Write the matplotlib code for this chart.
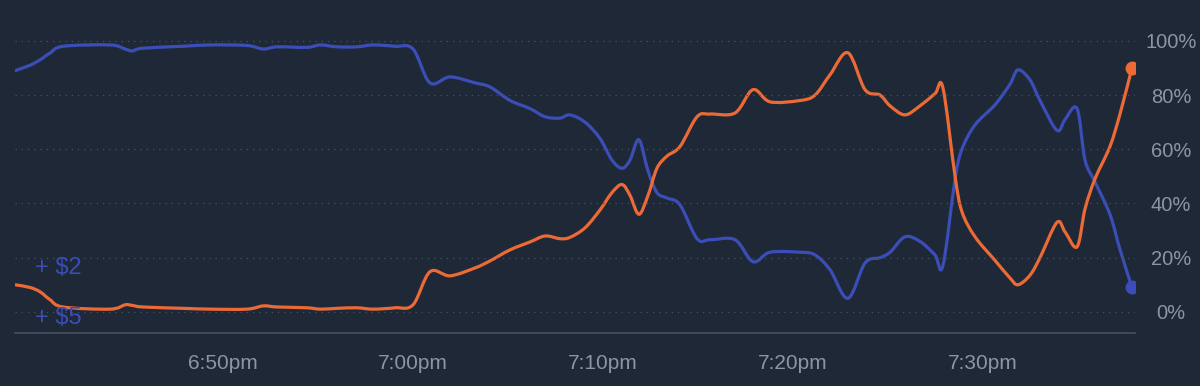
import matplotlib
matplotlib.use("Agg")
import matplotlib.pyplot as plt
from matplotlib.path import Path
from matplotlib.patches import PathPatch
import numpy as np

# minutes after 6:40pm
minutes = [-0.95, -0.16, 0.37, 0.89, 1.58, 4.05, 4.84, 5.21, 5.79, 7.89,
           9.32, 11.26, 12.11, 12.84, 14.42, 15.11, 16.00, 17.05, 17.89, 19.05,
           20.00, 20.89, 21.95, 23.26, 24.05, 25.11, 26.16, 26.95, 27.74, 28.26,
           29.05, 29.84, 30.47, 31.00, 31.42, 31.89, 32.37, 32.84, 33.37, 34.05,
           34.95, 35.63, 36.95, 37.89, 38.79, 40.37, 41.16, 41.95, 42.89, 43.79,
           44.58, 45.11, 45.89, 46.68, 47.47, 47.89, 48.53, 48.89, 49.58, 50.63,
           51.42, 51.84, 52.47, 53.00, 53.89, 54.32, 54.95, 55.37, 55.89, 56.68,
           57.21, 57.84]

blue_pct = [89, 91, 93, 95.5, 98, 98.5, 97, 96.3, 97.3, 98,
            98.5, 98.3, 97, 97.8, 97.6, 98.5, 97.8, 97.8, 98.5, 98,
            97, 84.5, 86.7, 84.5, 83, 78, 75, 72, 71.5, 72.7,
            70, 64, 56, 53, 56, 63.5, 52, 44, 42, 39.5,
            27, 26.6, 26.6, 18.5, 22, 22, 21, 15.5, 5, 18,
            20, 22, 27.7, 26, 21, 17, 49, 60, 69, 76.4,
            84, 89.3, 85.6, 78, 67, 71, 75, 56, 48, 36,
            23, 9]

orange_pct = [10, 9, 7.4, 4.5, 1.8, 1, 2.6, 2.4, 1.8, 1.3,
              1, 1, 2.2, 1.8, 1.5, 1, 1.3, 1.5, 1, 1.5,
              2.6, 14.8, 13.3, 16.2, 18.8, 22.9, 25.8, 28, 27, 27.5,
              31, 37.6, 44, 47, 43, 36, 43, 53, 57.5, 61,
              72, 73, 73.4, 82, 77.5, 78, 80, 87.5, 95.6, 82,
              80, 76, 72.7, 76, 80.5, 82.7, 50, 37, 27.7, 19,
              12.5, 10, 13.5, 20, 33, 29.5, 24, 38, 49, 61,
              73, 90]

tick_minutes = [10, 20, 30, 40, 50]
tick_labels = ["6:50pm", "7:00pm", "7:10pm", "7:20pm", "7:30pm"]
y_ticks = [0, 20, 40, 60, 80, 100]

BG = "#1f2836"
BLUE = "#3b4eb8"
ORANGE = "#ec6a36"
TEXT = "#8d95a1"
GRID = "#465061"


def smooth_path(x, y):
    # cubic bezier through every point (catmull-rom style handles)
    p = np.column_stack([x, y]).astype(float)
    verts = [p[0]]
    codes = [Path.MOVETO]
    n = len(p)
    for i in range(n - 1):
        p0 = p[i - 1] if i > 0 else p[i]
        p3 = p[i + 2] if i + 2 < n else p[i + 1]
        c1 = p[i] + (p[i + 1] - p0) / 6
        c2 = p[i + 1] - (p3 - p[i]) / 6
        verts += [c1, c2, p[i + 1]]
        codes += [Path.CURVE4] * 3
    return Path(verts, codes)


plt.rcParams["font.family"] = ["Liberation Sans", "DejaVu Sans"]

fig = plt.figure(figsize=(12, 3.86), dpi=100, facecolor=BG)
ax = fig.add_axes([15 / 1200, 53 / 386, 1120 / 1200, 313 / 386], facecolor=BG)

for vals, col in [(blue_pct, BLUE), (orange_pct, ORANGE)]:
    ax.add_patch(PathPatch(smooth_path(minutes, vals), facecolor="none", edgecolor=col,
                           lw=2.3, joinstyle="round", capstyle="round"))
    ax.plot(minutes[-1], vals[-1], "o", color=col, ms=9)

ax.set_xlim(minutes[0], 58.0)
ax.set_ylim(-7.8, 107.7)

ax.set_yticks(y_ticks)
ax.set_yticklabels([f"{v}%" for v in y_ticks])
ax.yaxis.tick_right()
ax.tick_params(axis="y", length=0, pad=26, labelsize=14.5, labelcolor=TEXT)
for lab in ax.get_yticklabels():
    lab.set_horizontalalignment("center")

ax.set_xticks(tick_minutes)
ax.set_xticklabels(tick_labels)
ax.tick_params(axis="x", length=0, pad=15, labelsize=15, labelcolor=TEXT)

ax.grid(axis="y", color=GRID, linestyle=(0, (1, 4)), linewidth=0.9)
ax.grid(axis="x", visible=False)
for side in ["top", "left", "right"]:
    ax.spines[side].set_visible(False)
ax.spines["bottom"].set_color("#465061")
ax.spines["bottom"].set_linewidth(1.2)

ax.text(0.018, 16.2, "+ $2", color=BLUE, fontsize=17, va="center",
        transform=ax.get_yaxis_transform())
ax.text(0.018, -2.2, "+ $5", color=BLUE, fontsize=17, va="center",
        transform=ax.get_yaxis_transform())

fig.savefig("out.png", dpi=100, facecolor=BG)
